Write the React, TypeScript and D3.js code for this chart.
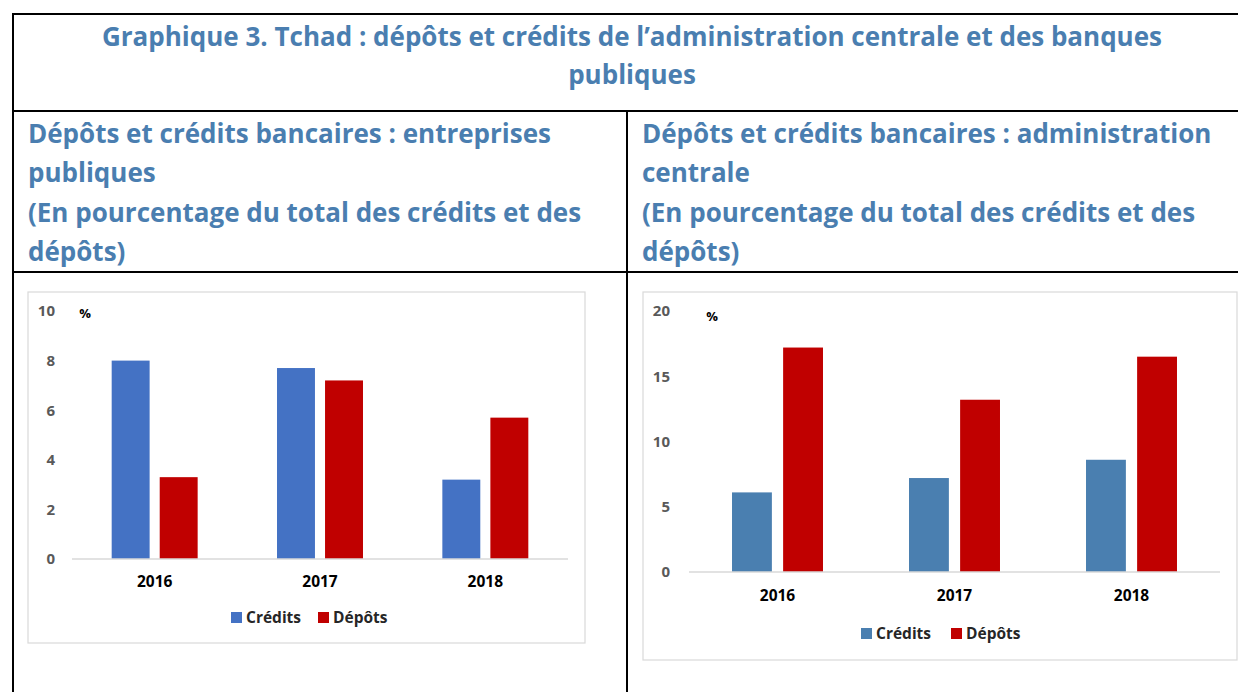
import React from "react";
import * as d3 from "d3";

const years = ["2016", "2017", "2018"];
const seriesNames = ["Crédits", "Dépôts"];
const leftCredits = [8.0, 7.7, 3.2];
const leftDepots = [3.3, 7.2, 5.7];
const rightCredits = [6.1, 7.2, 8.6];
const rightDepots = [17.2, 13.2, 16.5];
const leftTicks = [0, 2, 4, 6, 8, 10];
const rightTicks = [0, 5, 10, 15, 20];

const titleLines = [
  "Graphique 3. Tchad : dépôts et crédits de l\u2019administration centrale et des banques",
  "publiques",
];
const leftSubtitle = [
  "Dépôts et crédits bancaires : entreprises",
  "publiques",
  "(En pourcentage du total des crédits et des",
  "dépôts)",
];
const rightSubtitle = [
  "Dépôts et crédits bancaires : administration",
  "centrale",
  "(En pourcentage du total des crédits et des",
  "dépôts)",
];

const FONT = "'Open Sans', Lato, sans-serif";
const BLUE_TEXT = "#4A7EB0";

type PanelProps = {
  box: [number, number, number, number];
  xRange: [number, number];
  yRange: [number, number];
  yMax: number;
  ticks: number[];
  credits: number[];
  depots: number[];
  colors: [string, string];
  groupPad: number;
  barPad: number;
  tickRight: number;
  pct: [number, number];
  catY: number;
  legend: { x: number; y: number; gap: number };
};

function Panel(p: PanelProps) {
  const x0 = d3.scaleBand<string>().domain(years).range(p.xRange).paddingInner(p.groupPad).paddingOuter(p.groupPad / 2);
  const x1 = d3.scaleBand<string>().domain(seriesNames).range([0, x0.bandwidth()]).paddingInner(p.barPad);
  const y = d3.scaleLinear().domain([0, p.yMax]).range(p.yRange);
  const values = [p.credits, p.depots];
  const [bx, by, bw, bh] = p.box;
  return (
    <g>
      <rect x={bx} y={by} width={bw} height={bh} fill="#fff" stroke="#D9D9D9" strokeWidth={1.2} />
      {p.ticks.map((t) => (
        <text key={t} x={p.tickRight} y={y(t)} dy="0.36em" textAnchor="end" fontFamily={FONT} fontWeight={700} fontSize={15} fill="#595959">
          {t}
        </text>
      ))}
      <text x={p.pct[0]} y={p.pct[1]} textAnchor="middle" fontFamily={FONT} fontWeight={700} fontSize={13} fill="#000">%</text>
      {seriesNames.map((s, si) =>
        years.map((yr, i) => (
          <rect
            key={s + yr}
            x={(x0(yr) as number) + (x1(s) as number)}
            y={y(values[si][i])}
            width={x1.bandwidth()}
            height={y(0) - y(values[si][i])}
            fill={p.colors[si]}
          />
        ))
      )}
      <line x1={p.xRange[0]} x2={p.xRange[1]} y1={y(0)} y2={y(0)} stroke="#D9D9D9" strokeWidth={1.3} />
      {years.map((yr) => (
        <text key={yr} x={(x0(yr) as number) + x0.bandwidth() / 2} y={p.catY} textAnchor="middle" fontFamily={FONT} fontWeight={700} fontSize={15.5} fill="#000">
          {yr}
        </text>
      ))}
      {seriesNames.map((s, si) => (
        <g key={s} transform={`translate(${p.legend.x + si * p.legend.gap},${p.legend.y})`}>
          <rect x={0} y={-11} width={11} height={11} fill={p.colors[si]} />
          <text x={15} y={0} fontFamily={FONT} fontWeight={700} fontSize={15.5} fill="#262626">{s}</text>
        </g>
      ))}
    </g>
  );
}

export default function App() {
  return (
    <svg width={1238} height={692} style={{ position: "absolute", left: 0, top: 0, background: "#fff" }}>
      <rect x={0} y={0} width={1238} height={692} fill="#fff" />
      <line x1={12} x2={1238} y1={14} y2={14} stroke="#000" strokeWidth={2} />
      <line x1={13} x2={13} y1={13} y2={692} stroke="#000" strokeWidth={2} />
      <line x1={12} x2={1238} y1={111} y2={111} stroke="#000" strokeWidth={2} />
      <line x1={12} x2={1238} y1={272} y2={272} stroke="#000" strokeWidth={2} />
      <line x1={627} x2={627} y1={111} y2={692} stroke="#000" strokeWidth={2} />

      {titleLines.map((t, i) => (
        <text key={i} x={632} y={46 + i * 38} textAnchor="middle" fontFamily={FONT} fontWeight={700} fontSize={26} fill={BLUE_TEXT}>
          {t}
        </text>
      ))}
      {leftSubtitle.map((t, i) => (
        <text key={i} x={28} y={143 + i * 39.3} fontFamily={FONT} fontWeight={700} fontSize={26} fill={BLUE_TEXT}>
          {t}
        </text>
      ))}
      {rightSubtitle.map((t, i) => (
        <text key={i} x={642} y={143 + i * 39.3} fontFamily={FONT} fontWeight={700} fontSize={26} fill={BLUE_TEXT}>
          {t}
        </text>
      ))}

      <Panel
        box={[28, 292, 557, 351]}
        xRange={[72, 568]}
        yRange={[559, 311]}
        yMax={10}
        ticks={leftTicks}
        credits={leftCredits}
        depots={leftDepots}
        colors={["#4472C4", "#C00000"]}
        groupPad={0.48}
        barPad={0.21}
        tickRight={55}
        pct={[85, 318]}
        catY={587}
        legend={{ x: 231, y: 623, gap: 87 }}
      />
      <Panel
        box={[643, 292, 594, 368]}
        xRange={[689, 1220]}
        yRange={[572, 311]}
        yMax={20}
        ticks={rightTicks}
        credits={rightCredits}
        depots={rightDepots}
        colors={["#4A7FB0", "#C00000"]}
        groupPad={0.486}
        barPad={0.22}
        tickRight={670}
        pct={[712, 321]}
        catY={601}
        legend={{ x: 861, y: 639, gap: 90 }}
      />
    </svg>
  );
}
